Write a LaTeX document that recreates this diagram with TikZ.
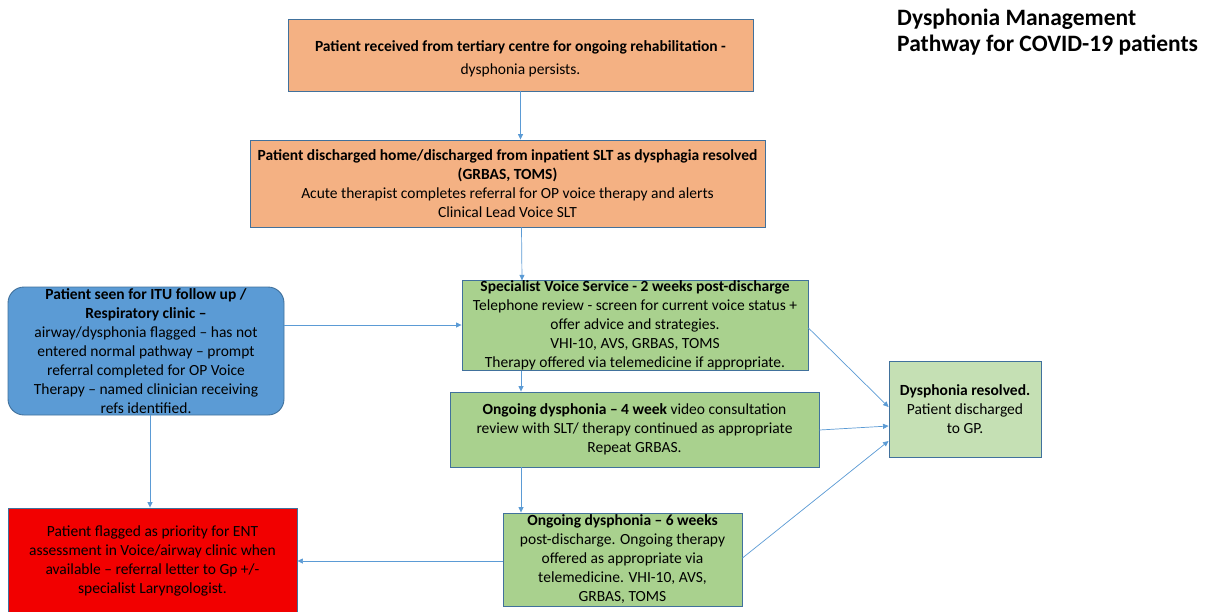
\documentclass[tikz,border=0pt]{standalone}
\usepackage{fontspec}
\setmainfont{Carlito}
\usetikzlibrary{arrows.meta}
\definecolor{salmon}{HTML}{F4B183}
\definecolor{boxblue}{HTML}{5B9BD5}
\definecolor{boxgreen}{HTML}{A9D18E}
\definecolor{lightgreen}{HTML}{C5E0B4}
\definecolor{boxred}{HTML}{F20000}
\definecolor{edgeblue}{HTML}{41719C}
\definecolor{arrowblue}{HTML}{5B9BD5}
\tikzset{
  stepbox/.style={draw=edgeblue, line width=0.9pt, align=center, inner sep=0pt,
    font=\fontsize{15.5}{19}\selectfont, text=black},
  flow/.style={draw=arrowblue, line width=0.7pt, -{Triangle[length=5.5pt,width=5pt]}}
}
\begin{document}
\begin{tikzpicture}[x=1pt,y=-1pt]
\useasboundingbox (0,0) rectangle (1206,611);
\fill[white] (0,0) rectangle (1206,611);

\node[stepbox, fill=salmon, minimum width=465pt, minimum height=72pt] (b1) at (520.5,55)
  {\rule{0pt}{18pt}\textbf{Patient received from tertiary centre for ongoing rehabilitation -}\\[4pt]dysphonia persists.};

\node[stepbox, fill=salmon, minimum width=515pt, minimum height=87pt] (b2) at (507.5,183.5)
  {\textbf{Patient discharged home/discharged from inpatient SLT as dysphagia resolved}\\
   \textbf{(GRBAS, TOMS)}\\
   Acute therapist completes referral for OP voice therapy and alerts\\
   Clinical Lead Voice SLT};

\node[stepbox, fill=boxblue, rounded corners=16pt, minimum width=276pt, minimum height=128pt] (itu) at (146,351)
  {\textbf{Patient seen for ITU follow up /}\\
   \textbf{Respiratory clinic –}\\
   airway/dysphonia flagged – has not\\
   entered normal pathway – prompt\\
   referral completed for OP Voice\\
   Therapy – named clinician receiving\\
   refs identified.};

\node[stepbox, fill=boxgreen, minimum width=346pt, minimum height=89pt] (g1) at (635,325.5)
  {\textbf{Specialist Voice Service - 2 weeks post-discharge}\\
   Telephone review - screen for current voice status +\\
   offer advice and strategies.\\
   VHI-10, AVS, GRBAS, TOMS\\
   Therapy offered via telemedicine if appropriate.};

\node[stepbox, fill=boxgreen, minimum width=369pt, minimum height=75pt] (g2) at (634.5,429.5)
  {\textbf{Ongoing dysphonia – 4 week} video consultation\\
   review with SLT/ therapy continued as appropriate\\
   Repeat GRBAS.};

\node[stepbox, fill=boxgreen, minimum width=239pt, minimum height=93pt] (g3) at (622.5,559.5)
  {\textbf{Ongoing dysphonia – 6 weeks}\\
   post-discharge. Ongoing therapy\\
   offered as appropriate via\\
   telemedicine. VHI-10, AVS,\\
   GRBAS, TOMS};

\node[stepbox, fill=boxred, minimum width=289pt, minimum height=106pt] (red) at (152.5,561)
  {Patient flagged as priority for ENT\\
   assessment in Voice/airway clinic when\\
   available – referral letter to Gp +/-\\
   specialist Laryngologist.};

\node[stepbox, fill=lightgreen, minimum width=152pt, minimum height=96pt] (res) at (965,409)
  {\textbf{Dysphonia resolved.}\\
   Patient discharged\\
   to GP.};

\node[align=left, anchor=north west, inner sep=0pt, font=\fontsize{23.5}{26}\selectfont\bfseries] (title) at (897,9)
  {Dysphonia Management\\Pathway for COVID-19 patients};

\draw[flow] (b1.south) -- (b2.north -| b1.south);
\draw[flow] ([xshift=14pt]b2.south) -- ([xshift=-113pt]g1.north);
\draw[flow] (itu.east |- 0,325) -- (g1.west |- 0,325);
\draw[flow] ([xshift=-114pt]g1.south) -- ([xshift=-113.5pt]g2.north);
\draw[flow] ([xshift=-113.5pt]g2.south) -- ([xshift=-101.5pt]g3.north);
\draw[flow] ([xshift=4pt]itu.south) -- ([xshift=-2.5pt]red.north);
\draw[flow] (g3.west |- 0,561) -- (red.east |- 0,561);
\draw[flow] (g1.east |- 0,328) -- (res.west |- 0,407);
\draw[flow] (g2.east |- 0,430) -- (res.west |- 0,426);
\draw[flow] (g3.east |- 0,558) -- (res.west |- 0,441);
\end{tikzpicture}
\end{document}
